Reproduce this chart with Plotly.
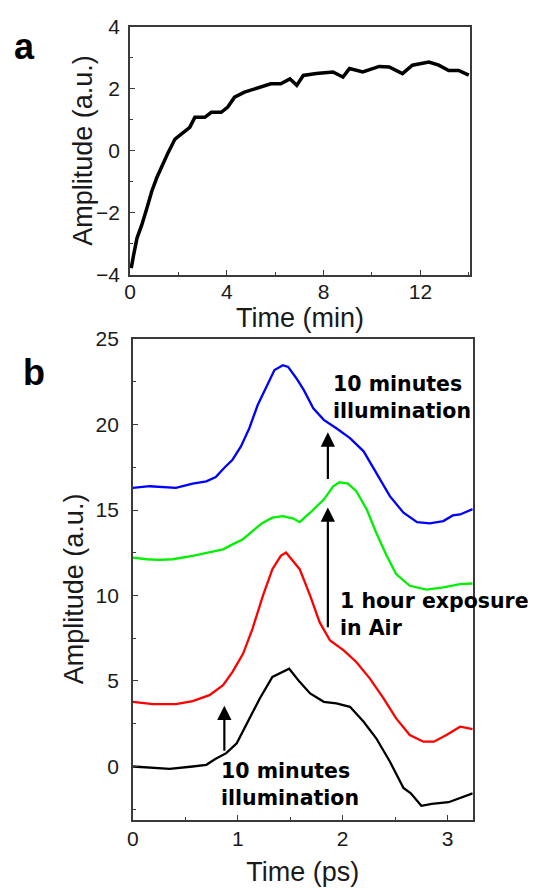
import plotly.graph_objects as go

# ---------------- Panel a data (Time in min, Amplitude a.u.) ----------------
a_time = [0.05, 0.08, 0.15, 0.29, 0.49, 0.7, 0.9, 1.11, 1.31, 1.58, 1.86, 2.2, 2.47, 2.68, 3.09,
          3.36, 3.77, 4.04, 4.32, 4.73, 5.14, 5.55, 5.82, 6.23, 6.61, 6.89, 7.16, 7.7, 8.39,
          8.8, 9.07, 9.62, 10.3, 10.71, 11.26, 11.67, 12.35, 12.76, 13.17, 13.58, 14.0]
a_amp = [-3.78, -3.62, -3.35, -2.81, -2.38, -1.84, -1.3, -0.86, -0.49, -0.05, 0.38, 0.59, 0.76, 1.08, 1.08,
         1.24, 1.24, 1.41, 1.73, 1.89, 2.0, 2.11, 2.16, 2.16, 2.32, 2.11, 2.43, 2.49, 2.54,
         2.38, 2.65, 2.54, 2.72, 2.7, 2.49, 2.76, 2.86, 2.76, 2.59, 2.59, 2.44]

# ---------------- Panel b data (Time in ps, Amplitude a.u.) ----------------
black_t = [0, 0.19, 0.35, 0.57, 0.7, 0.79, 0.89, 0.99, 1.08, 1.21, 1.33, 1.43, 1.49, 1.59, 1.69,
           1.82, 1.94, 2.07, 2.2, 2.32, 2.45, 2.58, 2.65, 2.75, 2.85, 3.01, 3.14, 3.24]
black_y = [0.0, -0.06, -0.14, 0.0, 0.1, 0.45, 0.78, 1.36, 2.42, 3.98, 5.24, 5.53, 5.72, 4.95, 4.27,
           3.78, 3.69, 3.49, 2.62, 1.65, 0.29, -1.26, -1.57, -2.3, -2.19, -2.09, -1.78, -1.57]

red_t = [0, 0.19, 0.41, 0.57, 0.73, 0.86, 0.95, 1.05, 1.14, 1.24, 1.33, 1.41, 1.46, 1.53, 1.59,
         1.69, 1.78, 1.88, 2.01, 2.13, 2.26, 2.39, 2.51, 2.64, 2.77, 2.87, 2.99, 3.12, 3.24]
red_y = [3.78, 3.65, 3.65, 3.82, 4.17, 4.75, 5.53, 6.59, 8.05, 9.99, 11.54, 12.32, 12.51, 12.02, 11.54,
         9.99, 8.44, 7.37, 6.79, 6.11, 5.14, 3.98, 2.81, 1.84, 1.45, 1.45, 1.84, 2.33, 2.19]

green_t = [0, 0.13, 0.25, 0.38, 0.57, 0.73, 0.86, 0.95, 1.05, 1.14, 1.24, 1.33, 1.43, 1.53, 1.59,
           1.69, 1.82, 1.91, 1.97, 2.05, 2.13, 2.23, 2.32, 2.42, 2.51, 2.64, 2.8, 2.96, 3.12, 3.24]
green_y = [12.22, 12.12, 12.08, 12.12, 12.32, 12.51, 12.7, 12.99, 13.29, 13.77, 14.26, 14.55, 14.64, 14.5, 14.29,
           14.84, 15.61, 16.39, 16.62, 16.54, 16.1, 15.03, 13.67, 12.32, 11.25, 10.57, 10.34, 10.47, 10.67, 10.7]

blue_t = [0, 0.16, 0.41, 0.57, 0.7, 0.79, 0.87, 0.95, 1.03, 1.11, 1.19, 1.27, 1.35, 1.43, 1.48,
          1.56, 1.63, 1.72, 1.82, 1.94, 2.07, 2.2, 2.32, 2.45, 2.58, 2.71, 2.83, 2.96, 3.05, 3.12, 3.24]
blue_y = [16.29, 16.39, 16.29, 16.54, 16.68, 16.93, 17.46, 17.94, 18.72, 19.78, 21.14, 22.21, 23.18, 23.47, 23.37,
          22.69, 22.01, 20.95, 20.27, 19.78, 19.2, 18.43, 17.16, 15.81, 14.84, 14.29, 14.22, 14.35, 14.68, 14.74, 15.05]

# annotation texts (text, left x, centre y in panel-b data units)
b_labels = [("10 minutes<br>illumination", 1.89, 21.555),
            ("1 hour exposure<br>in Air", 1.957, 8.88),
            ("10 minutes<br>illumination", 0.822, -1.075)]
# arrows: (x, head y, tail y) in panel-b data units
b_arrows = [(0.872, 3.55, 0.84), (1.859, 15.15, 8.05), (1.859, 19.54, 16.72)]

W, H = 541, 890
OFF = 8  # page body margin offset
FONT = "Arial, Liberation Sans, sans-serif"
BFONT = "DejaVu Sans, Arial, sans-serif"
AXC = "#3a3a3a"
TXT = "#1a1a1a"


def fx(p):
    return (p - OFF) / W


def fy(p):
    return 1 - (p - OFF) / H


fig = go.Figure()
fig.add_trace(go.Scatter(x=a_time, y=a_amp, mode="lines", line=dict(color="black", width=3.5),
                         xaxis="x", yaxis="y", showlegend=False))
for tt, yy, col in [(black_t, black_y, "black"), (red_t, red_y, "#ff0000"),
                    (green_t, green_y, "#00f000"), (blue_t, blue_y, "#0000ff")]:
    fig.add_trace(go.Scatter(x=tt, y=yy, mode="lines", line=dict(color=col, width=2.3),
                             xaxis="x2", yaxis="y2", showlegend=False))

common = dict(showline=True, mirror=True, linecolor=AXC, linewidth=1.5, ticks="inside",
              ticklen=5, tickcolor=AXC, showgrid=False, zeroline=False, automargin=False,
              tickfont=dict(family=FONT, size=21, color=TXT))
tfont = dict(family=FONT, size=27, color=TXT)

fig.update_layout(
    width=W, height=H, margin=dict(l=0, r=0, t=0, b=0),
    paper_bgcolor="white", plot_bgcolor="white", showlegend=False,
    xaxis=dict(domain=[fx(130), fx(470)], range=[0, 14.05], anchor="y", dtick=4, tick0=0,
               minor=dict(ticks="inside", ticklen=3, dtick=2, tickcolor=AXC),
               title=dict(text="Time (min)", font=tfont, standoff=0),
               ticklabelstandoff=-3, **common),
    yaxis=dict(domain=[fy(275), fy(26.7)], range=[-4, 4], anchor="x", dtick=2, tick0=0,
               minor=dict(ticks="inside", ticklen=3, dtick=1, tickcolor=AXC),
               ticklabelstandoff=4, **common),
    xaxis2=dict(domain=[fx(132.9), fx(472.7)], range=[0, 3.24], anchor="y2", dtick=1, tick0=0,
                minor=dict(ticks="inside", ticklen=3, dtick=0.5, tickcolor=AXC),
                title=dict(text="Time (ps)", font=tfont, standoff=13),
                ticklabelstandoff=0, **common),
    yaxis2=dict(domain=[fy(819.5), fy(339)], range=[-3.1, 25], anchor="x2", dtick=5, tick0=0,
                minor=dict(ticks="inside", ticklen=3, dtick=2.5, tickcolor=AXC),
                ticklabelstandoff=8, **common),
)

ann = []
# panel letters
ann.append(dict(text="<b>a</b>", xref="paper", yref="paper", x=fx(24.5), y=fy(47),
                xanchor="center", yanchor="middle", showarrow=False,
                font=dict(family=FONT, size=36, color="black")))
ann.append(dict(text="<b>b</b>", xref="paper", yref="paper", x=fx(33.6), y=fy(372),
                xanchor="center", yanchor="middle", showarrow=False,
                font=dict(family=FONT, size=36, color="black")))
# y-axis titles
ann.append(dict(text="Amplitude (a.u.)", xref="paper", yref="paper", x=fx(82.8), y=fy(150),
                xanchor="center", yanchor="middle", textangle=-90, showarrow=False, font=tfont))
ann.append(dict(text="Amplitude (a.u.)", xref="paper", yref="paper", x=fx(74.2), y=fy(589),
                xanchor="center", yanchor="middle", textangle=-90, showarrow=False, font=tfont))

for t, x, y in b_labels:
    ann.append(dict(text="<b>%s</b>" % t, xref="x2", yref="y2", x=x, y=y, xanchor="left",
                    yanchor="middle", align="left", showarrow=False,
                    font=dict(family=BFONT, size=20.5, color="black")))

for x, yh, yt in b_arrows:
    ann.append(dict(text="", xref="x2", yref="y2", x=x, y=yh, axref="x2", ayref="y2",
                    ax=x, ay=yt, showarrow=True, arrowhead=2, arrowsize=1.3, arrowwidth=2.2,
                    arrowcolor="black"))

fig.update_layout(annotations=ann)
fig.write_html("out.html")
